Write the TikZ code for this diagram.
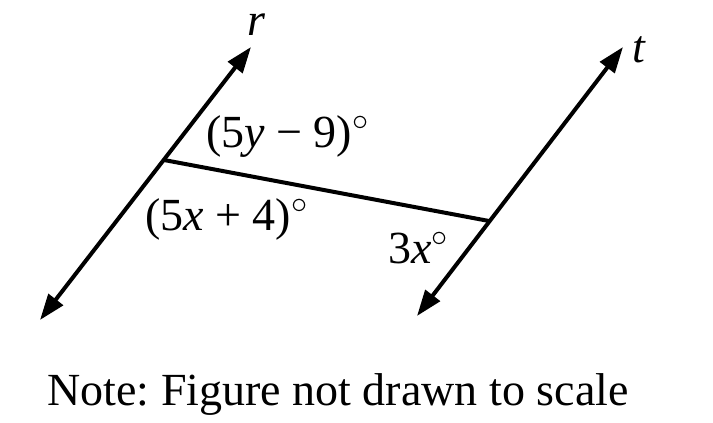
\RequirePackage{fix-cm}
\documentclass[tikz,border=0pt]{standalone}
\usepackage{fontspec}
\setmainfont{Liberation Serif}
\frenchspacing
\usetikzlibrary{arrows.meta}
\tikzset{
	ray/.style={draw=black, line width=4pt, {Triangle[length=26pt,width=18pt]}-{Triangle[length=26pt,width=18pt]}},
	cross/.style={draw=black, line width=4pt},
	angle label/.style={anchor=base west, inner sep=0pt, font=\fontsize{46}{50}\selectfont}
}

\begin{document}
\begin{tikzpicture}[x=1pt,y=-1pt]
	\useasboundingbox (0,0) rectangle (713,423);
	\coordinate (r0) at (40, 320);
	\coordinate (r1) at (251, 47);
	\coordinate (t0) at (417, 316);
	\coordinate (t1) at (623, 47);
	\coordinate (a) at (164, 160);
	\coordinate (b) at (489, 221);
	\draw [ray] (r0) to (r1);
	\draw [ray] (t0) to (t1);
	\draw [cross] (a) to (b);
	\node [angle label] (rlabel) at (247, 35) {\textit{r}};
	\node [angle label] (tlabel) at (632, 62) {\textit{t}};
	\node [angle label] (upper) at (206, 147) {(5\textit{y} − 9)$^\circ$};
	\node [angle label] (lower) at (145, 230) {(5\textit{x} + 4)$^\circ$};
	\node [angle label] (right) at (388, 263) {3\textit{x}$^\circ$};
	\node [anchor=base, inner sep=0pt, font=\fontsize{46}{50}\selectfont] (note) at (338, 405) {Note: Figure not drawn to scale};
\end{tikzpicture}
\end{document}
